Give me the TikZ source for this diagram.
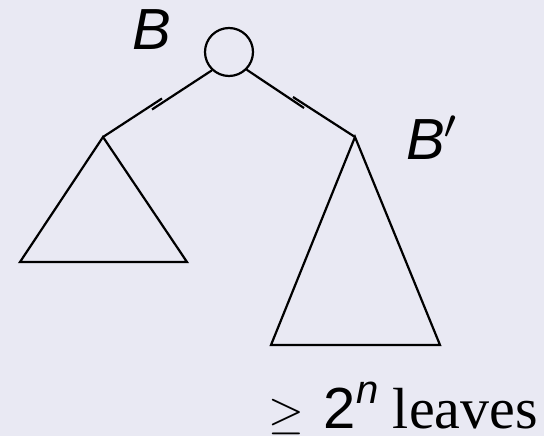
\documentclass[tikz,border=0pt]{standalone}
\usepackage{graphicx}
\usepackage{fontspec}
\setmainfont{Liberation Serif}
\newfontfamily\sansf{Liberation Sans}
\definecolor{bgc}{RGB}{233,233,243}
\newcommand{\smallmath}[2]{\scalebox{#1}{\fontsize{10}{12}\selectfont$#2$}}
\begin{document}
\begin{tikzpicture}[x=1pt,y=-1pt,line width=2.2pt,
  lbl/.style={inner sep=0pt,font=\fontsize{58}{62}\selectfont},
  treeline/.style={line join=miter}]
\fill[bgc] (0,0) rectangle (544,436);
\useasboundingbox (0,0) rectangle (544,436);
\node[circle,draw,minimum size=48pt,inner sep=0pt] (root) at (229,52) {};
% left subtree
\coordinate (la) at (103,137);
\coordinate (lb1) at (152,109.5);
\coordinate (lb2) at (162,98.5);
\coordinate (ll) at (20,262);
\coordinate (lr) at (187,262);
% right subtree
\coordinate (ra) at (355,137);
\coordinate (rb1) at (304,108);
\coordinate (rb2) at (293,97);
\coordinate (rl) at (271,345);
\coordinate (rr) at (440,345);
\draw (root.227) -- (lb1);
\draw (lb2) -- (la);
\draw (root.-45) -- (rb1);
\draw (rb2) -- (ra);
\draw[treeline] (la) -- (ll) -- (lr) -- cycle;
\draw[treeline] (ra) -- (rl) -- (rr) -- cycle;
\node[lbl] (tB) at (152,29.5) {\sansf\itshape B};
\node[lbl] (tBp) at (433,138) {{\sansf\itshape B}\kern-2pt\smallmath{5.8}{'}};
\node[lbl,anchor=base west] (tleaves) at (267,428) {\smallmath{4.6}{\geq}\hspace{20pt}{\sansf 2}\raisebox{0.42em}{\sansf\itshape\fontsize{40}{42}\selectfont n} leaves};
\end{tikzpicture}
\end{document}
